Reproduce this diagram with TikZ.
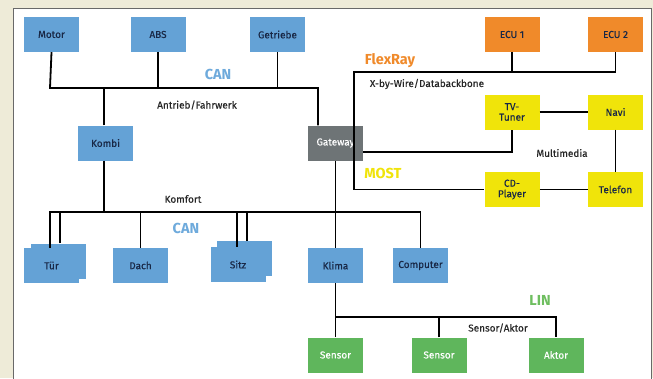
\documentclass[tikz,border=0pt]{standalone}
\usepackage{fontspec}
\setmainfont{Fira Sans}
\newfontfamily\kfzfont[FakeBold=0.4]{Fira Sans}
\usetikzlibrary{positioning,calc}
\definecolor{KfzBeige}{RGB}{238,235,216}
\definecolor{KfzFrame}{RGB}{105,105,105}
\definecolor{KfzBlue}{RGB}{100,162,214}
\definecolor{KfzNavy}{RGB}{25,40,70}
\definecolor{KfzOrange}{RGB}{240,138,42}
\definecolor{KfzYellow}{RGB}{240,228,10}
\definecolor{KfzGreen}{RGB}{95,182,92}
\definecolor{KfzGray}{RGB}{110,116,118}
\definecolor{KfzCanText}{RGB}{110,170,220}
\definecolor{KfzLinText}{RGB}{110,190,95}
\tikzset{
  kfz/box/.style={
    draw=none,
    inner sep=0pt,
    minimum width=55pt,
    minimum height=35pt,
    align=center,
    font=\kfzfont\fontsize{10}{10.5}\selectfont
  },
  kfz/can/.style={kfz/box, fill=KfzBlue, text=KfzNavy},
  kfz/flex/.style={kfz/box, fill=KfzOrange, text=KfzNavy},
  kfz/most/.style={kfz/box, fill=KfzYellow, text=KfzNavy},
  kfz/lin/.style={kfz/box, fill=KfzGreen, text=white},
  kfz/gate/.style={kfz/box, fill=KfzGray, text=white},
  kfz/line/.style={draw=black, line width=1.8pt},
  kfz/busname/.style={font=\fontsize{14.5}{14.5}\selectfont\bfseries},
  kfz/label/.style={font=\kfzfont\fontsize{10}{10}\selectfont, text=black!85}
}
\begin{document}
\begin{tikzpicture}[x=1pt,y=-1pt]
  \useasboundingbox (0,0) rectangle (653,378);
  \clip (0,0) rectangle (653,378);
  \fill[KfzBeige] (0,0) rectangle (653,378);
  \draw[KfzFrame, fill=white, line width=1pt] (13,8) rectangle (651,390);

  % Antrieb/Fahrwerk
  \node[kfz/can] (motor) at (51.5,34.5) {Motor};
  \node[kfz/can] (abs) at (158,34.5) {ABS};
  \node[kfz/can] (getriebe) at (277.5,34.5) {Getriebe};
  \node[kfz/can] (kombi) at (105.5,143) {Kombi};
  \node[kfz/gate] (gateway) at (335.5,143) {Gateway};

  % FlexRay und MOST
  \node[kfz/flex] (ecua) at (512,34.5) {ECU 1};
  \node[kfz/flex] (ecub) at (615.5,34.5) {ECU 2};
  \node[kfz/most] (tv) at (512,112) {TV-\\Tuner};
  \node[kfz/most] (navi) at (615.5,112) {Navi};
  \node[kfz/most] (cd) at (512,189.5) {CD-\\Player};
  \node[kfz/most] (telefon) at (615.5,189.5) {Telefon};

  % Komfort
  \node[kfz/can] (tuerb) at (58,261) {};
  \node[kfz/can] (tuer) at (51.5,265.5) {Tür};
  \node[kfz/can] (dach) at (140.5,265.5) {Dach};
  \node[kfz/can] (sitzb) at (244,258.5) {};
  \node[kfz/can] (sitz) at (238,264.5) {Sitz};
  \node[kfz/can] (klima) at (335.5,265.5) {Klima};
  \node[kfz/can] (computer) at (420.5,265.5) {Computer};

  % Sensor/Aktor
  \node[kfz/lin] (sensa) at (335.5,355) {Sensor};
  \node[kfz/lin] (sensb) at (439,355) {Sensor};
  \node[kfz/lin] (aktor) at (556,355) {Aktor};

  \coordinate (canbus) at (0,88);
  \coordinate (frbus) at (354,72);
  \coordinate (komfbus) at (0,212);
  \coordinate (linbus) at (0,317);

  \draw[kfz/line] (motor.south) -- ([xshift=-1.5pt]motor.south |- canbus)
    -- ([xshift=-17.5pt]gateway.north |- canbus) -- ([xshift=-17.5pt]gateway.north);
  \draw[kfz/line] (abs.south) -- (abs |- canbus);
  \draw[kfz/line] (getriebe.south) -- (getriebe |- canbus);
  \draw[kfz/line] ([xshift=-1.5pt]kombi.north) -- ([xshift=-1.5pt]kombi.north |- canbus);

  \draw[kfz/line] (ecub.south) |- (frbus) |- (cd.west);
  \draw[kfz/line] (ecua.south) -- (ecua |- frbus);
  \draw[kfz/line] ([yshift=-9pt]gateway.east) -| (tv.south);
  \draw[kfz/line] (tv.east) -- (navi.west);
  \draw[kfz/line] (navi.south) -- (telefon.north);
  \draw[kfz/line] (cd.east) -- (telefon.west);

  \draw[kfz/line] ([xshift=-1.5pt]kombi.south) -- ([xshift=-1.5pt]kombi.south |- komfbus);
  \draw[kfz/line] ([xshift=-1.5pt]tuer.north) -- ([xshift=-1.5pt]tuer.north |- komfbus) -| (computer.north);
  \draw[kfz/line] ([xshift=2pt]tuerb.north) -- ([xshift=2pt]tuerb.north |- komfbus);
  \draw[kfz/line] (dach.north) -- (dach |- komfbus);
  \draw[kfz/line] ([xshift=-1pt]sitz.north) -- ([xshift=-1pt]sitz.north |- komfbus);
  \draw[kfz/line] ([xshift=3pt]sitzb.north) -- ([xshift=3pt]sitzb.north |- komfbus);
  \draw[kfz/line] (gateway.south) -- (klima.north);

  \draw[kfz/line] (klima.south) -- (sensa.north);
  \draw[kfz/line] (klima |- linbus) -| (aktor.north);
  \draw[kfz/line] (sensb.north) -- (sensb |- linbus);

  \node[kfz/busname, text=KfzCanText] (canname) at (218,74) {CAN};
  \node[kfz/label] (antrieb) at (197,105) {Antrieb/Fahrwerk};
  \node[kfz/busname, text=KfzOrange] (flexname) at (390,61) {FlexRay};
  \node[kfz/label] (xbw) at (427,84) {X-by-Wire/Databackbone};
  \node[kfz/label] (multimedia) at (562,153) {Multimedia};
  \node[kfz/busname, text=KfzYellow] (mostname) at (383,173) {MOST};
  \node[kfz/label] (komfort) at (183,199) {Komfort};
  \node[kfz/busname, text=KfzCanText] (canname2) at (186,228) {CAN};
  \node[kfz/busname, text=KfzLinText] (linname) at (540,300) {LIN};
  \node[kfz/label] (sensakt) at (498,328) {Sensor/Aktor};
\end{tikzpicture}
\end{document}
